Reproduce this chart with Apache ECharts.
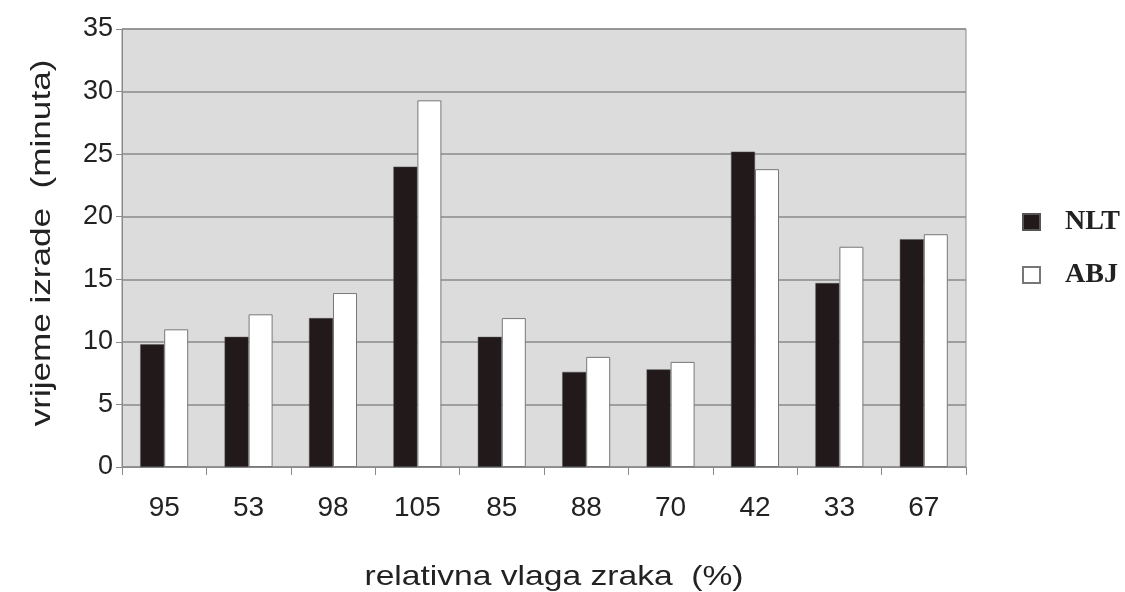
<!DOCTYPE html>
<html>
<head>
<meta charset="utf-8">
<title>index</title>
<style>
  html, body { margin: 0; padding: 0; background: #fff; }
  #container { width: 1125px; height: 592px; }
</style>
</head>
<body>
<div id="container"></div>
<script src="https://cdn.jsdelivr.net/npm/echarts@6/dist/echarts.min.js"></script>
<script>
// relativna vlaga zraka (%)
var categories = ['95', '53', '98', '105', '85', '88', '70', '42', '33', '67'];
var nltValues = [9.8, 10.4, 11.9, 24.0, 10.4, 7.6, 7.8, 25.2, 14.7, 18.2];
var abjValues = [11.0, 12.2, 13.9, 29.3, 11.9, 8.8, 8.4, 23.8, 17.6, 18.6];
var seriesNames = ['NLT', 'ABJ'];

var chart = echarts.init(document.getElementById('container'));

var option = {
  backgroundColor: '#fff',
  animation: false,
  grid: {
    left: 122,
    right: 159,
    top: 29,
    bottom: 125,
    show: true,
    backgroundColor: '#dcdcdc',
    borderColor: '#8a8a8a',
    borderWidth: 1
  },
  legend: {
    orient: 'vertical',
    left: 1022,
    top: 208,
    padding: 0,
    itemWidth: 17,
    itemHeight: 16,
    itemGap: 25,
    icon: 'rect',
    data: seriesNames,
    textStyle: {
      fontFamily: 'Liberation Serif',
      fontWeight: 'bold',
      fontSize: 28,
      color: '#222',
      padding: [0, 0, 0, 20]
    }
  },
  xAxis: {
    type: 'category',
    data: categories,
    axisLine: { lineStyle: { color: '#8a8a8a' } },
    axisTick: { show: true, length: 8, lineStyle: { color: '#8a8a8a' } },
    axisLabel: {
      margin: 27,
      fontFamily: 'Liberation Sans',
      fontSize: 28,
      color: '#222'
    }
  },
  yAxis: {
    type: 'value',
    min: 0,
    max: 35,
    interval: 5,
    axisLine: { show: true, lineStyle: { color: '#8a8a8a' } },
    axisTick: { show: true, length: 6, lineStyle: { color: '#8a8a8a' } },
    splitLine: { lineStyle: { color: '#8a8a8a', width: 1.5 } },
    axisLabel: {
      margin: 9,
      fontFamily: 'Liberation Sans',
      fontSize: 27,
      color: '#222'
    }
  },
  graphic: [
    {
      type: 'text',
      x: 554,
      y: 577,
      scaleX: 1.2,
      style: {
        text: 'relativna vlaga zraka  (%)',
        fontFamily: 'Liberation Sans',
        fontSize: 28,
        fill: '#222',
        align: 'center',
        verticalAlign: 'middle'
      }
    },
    {
      type: 'text',
      x: 43,
      y: 243,
      rotation: Math.PI / 2,
      scaleX: 1.3,
      style: {
        text: 'vrijeme izrade  (minuta)',
        fontFamily: 'Liberation Sans',
        fontSize: 27,
        fill: '#222',
        align: 'center',
        verticalAlign: 'middle'
      }
    }
  ],
  series: [
    {
      name: seriesNames[0],
      type: 'bar',
      data: nltValues,
      barWidth: 24,
      barGap: '0%',
      itemStyle: { color: '#221a1a', borderColor: '#555', borderWidth: 0.5 }
    },
    {
      name: seriesNames[1],
      type: 'bar',
      data: abjValues,
      barWidth: 24,
      itemStyle: { color: '#ffffff', borderColor: '#777', borderWidth: 1 }
    }
  ]
};

chart.setOption(option);
</script>
</body>
</html>
